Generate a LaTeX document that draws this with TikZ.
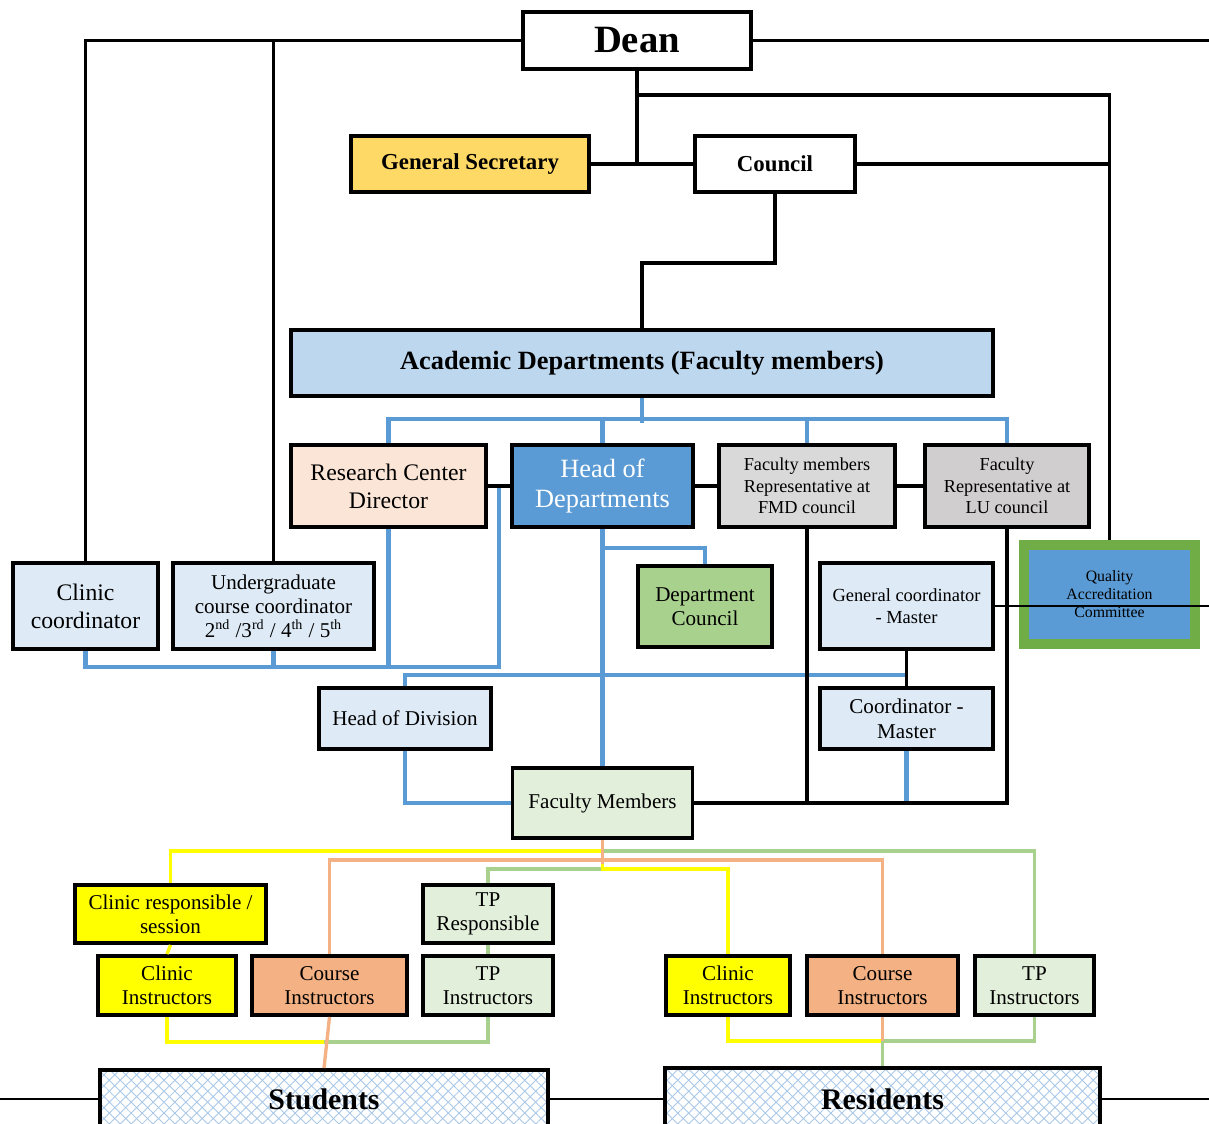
\documentclass[tikz,border=0pt]{standalone}
\usepackage{fontspec}
\setmainfont{Liberation Serif}
\usetikzlibrary{calc,patterns.meta}

\definecolor{gold}{HTML}{FFD966}
\definecolor{acadblue}{HTML}{BDD7EE}
\definecolor{peach}{HTML}{FBE5D6}
\definecolor{hodblue}{HTML}{5B9BD5}
\definecolor{greyA}{HTML}{D9D9D9}
\definecolor{greyB}{HTML}{D0CECE}
\definecolor{qgreen}{HTML}{70AD47}
\definecolor{paleblue}{HTML}{DEEBF7}
\definecolor{deptgreen}{HTML}{A9D18E}
\definecolor{palegreen}{HTML}{E2EFDA}
\definecolor{brightyellow}{HTML}{FFFF00}
\definecolor{apricot}{HTML}{F4B183}
\definecolor{hatchblue}{HTML}{A9C8E8}

\begin{document}
\begin{tikzpicture}[x=0.02cm, y=-0.02cm,
  box/.style={draw, line width=2.2pt, align=center, inner sep=0pt},
  wh/.style 2 args={minimum width=#1*0.02cm, minimum height=#2*0.02cm},
  fs/.style 2 args={font=\fontsize{#1}{#2}\selectfont},
  blk/.style={line width=2pt},
  blu/.style={line width=2.3pt, draw=hodblue},
  ylw/.style={line width=1.9pt, draw=brightyellow},
  org/.style={line width=1.9pt, draw=apricot},
  grn/.style={line width=1.9pt, draw=deptgreen},
  hatch/.style={preaction={fill=white},
    preaction={pattern={Lines[angle=45,distance=4.4pt,line width=0.5pt]}, pattern color=hatchblue},
    preaction={pattern={Lines[angle=-45,distance=4.4pt,line width=0.5pt]}, pattern color=hatchblue}}]
	\useasboundingbox (0,0) rectangle (1209,1124);
	\clip (0,0) rectangle (1209,1124);
	\fill[white] (0,0) rectangle (1209,1124);

	% top level
	\node[box, wh={228}{57}, fs={22}{26}] (dean) at (637,40.5) {\textbf{Dean}};
	\node[box, fill=gold, wh={238}{56}, fs={13}{15}] (gensec) at (470,164) {\textbf{General Secretary}};
	\node[box, wh={160}{56}, fs={13}{15}] (council) at (775,164) {\textbf{Council}};
	\node[box, fill=acadblue, wh={702}{66}, fs={15}{18}] (acad) at (642,363) {\textbf{Academic Departments (Faculty members)}};

	% departments row
	\node[box, fill=peach, wh={195}{82}, fs={13.5}{16}] (rcd) at (388.5,486) {Research Center\\Director};
	\node[box, fill=hodblue, text=white, wh={181}{82}, fs={15}{17.5}] (hod) at (602.5,486) {Head of\\Departments};
	\node[box, fill=greyA, wh={176}{82}, fs={10.4}{12.2}] (fmd) at (807,486) {Faculty members\\Representative at\\FMD council};
	\node[box, fill=greyB, wh={164}{82}, fs={10.4}{12.2}] (lu) at (1007,486) {Faculty\\Representative at\\LU council};
	\node[box, draw=qgreen, line width=5.7pt, fill=hodblue, wh={171}{99}, fs={9}{10.2}] (qac) at (1109.5,594.5) {Quality\\Accreditation\\Committee};

	% coordinators
	\node[box, fill=paleblue, wh={145}{86}, fs={13.5}{16}] (clinco) at (85.5,606) {Clinic\\coordinator};
	\node[box, fill=paleblue, wh={201}{86}, fs={12}{13.6}] (ugco) at (273.5,606) {Undergraduate\\course coordinator\\2\textsuperscript{nd} /3\textsuperscript{rd} / 4\textsuperscript{th} / 5\textsuperscript{th}};
	\node[box, fill=deptgreen, wh={134}{81}, fs={12}{14}] (dcouncil) at (705,606.5) {Department\\Council};
	\node[box, fill=paleblue, wh={173}{86}, fs={10.5}{12.5}] (gcm) at (906.5,606) {General coordinator\\- Master};
	\node[box, fill=paleblue, wh={172}{61}, fs={12}{14}] (hdiv) at (405,718.5) {Head of Division};
	\node[box, fill=paleblue, wh={173}{61}, fs={12}{14}] (cm) at (906.5,718.5) {Coordinator -\\Master};
	\node[box, fill=palegreen, wh={180}{70}, fs={12}{14}] (fm) at (602.5,803) {Faculty Members};

	% instructors
	\node[box, fill=brightyellow, wh={191}{58}, fs={12}{13.6}] (clinresp) at (170.5,914) {Clinic responsible /\\session};
	\node[box, fill=palegreen, wh={130}{58}, fs={12}{13.6}] (tpresp) at (488,914) {TP\\Responsible};
	\node[box, fill=brightyellow, wh={138}{59}, fs={12}{13.6}] (clinL) at (167,985.5) {Clinic\\Instructors};
	\node[box, fill=apricot, wh={155}{59}, fs={12}{13.6}] (courseL) at (329.5,985.5) {Course\\Instructors};
	\node[box, fill=palegreen, wh={130}{59}, fs={12}{13.6}] (tpL) at (488,985.5) {TP\\Instructors};
	\node[box, fill=brightyellow, wh={124}{59}, fs={12}{13.6}] (clinR) at (728,985.5) {Clinic\\Instructors};
	\node[box, fill=apricot, wh={151}{59}, fs={12}{13.6}] (courseR) at (882.5,985.5) {Course\\Instructors};
	\node[box, fill=palegreen, wh={119}{59}, fs={12}{13.6}] (tpR) at (1034.5,985.5) {TP\\Instructors};

	\node[box, hatch, wh={448}{58}, fs={17}{20}] (students) at (324,1099) {\textbf{Students}};
	\node[box, hatch, wh={435}{62}, fs={17}{20}] (residents) at (882.5,1099) {\textbf{Residents}};

	\coordinate (eR) at (1209,40.5);
	\coordinate (gR) at (1209,606);
	\coordinate (sL) at (0,1099);
	\coordinate (sR) at (1209,1099);
	\coordinate (rh) at ($(rcd.east)!.5!(hod.west)$);
	\coordinate (hx) at (906.5,675);
	\coordinate (sj) at (324,1042);
	\coordinate (rj) at (882.5,1041);

	% blue links
	\draw[blu] (acad.south) -- ++(0,25);
	\draw[blu] (rcd.north) -- ++(0,-24) -| (lu.north);
	\draw[blu] (hod.north) -- ++(0,-24);
	\draw[blu] (fmd.north) -- ++(0,-24);
	\draw[blu] (clinco.south) -- ++(0,16) -| (rh);
	\draw[blu] (ugco.south) -- ++(0,16);
	\draw[blu] (rcd.south) -- ++(0,138);
	\draw[blu] (hod.south) -- (fm.north);
	\draw[blu] (hod.south) -- ++(0,19) -| (dcouncil.north);
	\draw[blu] (hdiv.north) |- (hx);
	\draw[blu] (hdiv.south) |- (fm.west);
	\draw[blu] (cm.south) -- (cm.south |- fm.east);

	% black links
	\draw[blk] (dean.west) -| (clinco.north);
	\draw[blk] (dean.west) -| (ugco.north);
	\draw[blk] (dean.east) -- (eR);
	\draw[blk] (dean.south) -- (dean.south |- gensec.east);
	\draw[blk] (dean.south) -- ++(0,24) -| (qac.north);
	\draw[blk] (gensec.east) -- (council.west);
	\draw[blk] (council.east) -- (council.east -| qac.north);
	\draw[blk] (council.south) -- ++(0,69) -| (acad.north);
	\draw[blk] (rcd.east) -- (hod.west);
	\draw[blk] (hod.east) -- (fmd.west);
	\draw[blk] (fmd.east) -- (lu.west);
	\draw[blk] (fmd.south) -- (fmd.south |- fm.east);
	\draw[blk] (fm.east) -| (lu.south);
	\draw[blk] (gcm.south) -- (cm.north);
	\draw[line width=1.7pt] (gcm.east) -- (gR);

	% teaching links
	\draw[grn] (tpresp.north) -- ++(0,-14) -| ++(114.5,-18) -| (tpR.north);
	\draw[ylw] (clinresp.north) -- ++(0,-32) -| ++(432,18) -| (clinR.north);
	\draw[org] (fm.south) -- ++(0,24);
	\draw[org] (courseL.north) -- ++(0,-94) -| (courseR.north);
	\draw[ylw] (clinresp.south) -- (clinL.north);
	\draw[grn] (tpresp.south) -- (tpL.north);
	\draw[ylw] (clinL.south) |- (sj);
	\draw[grn] (tpL.south) |- (sj);
	\draw[org] (courseL.south) -- (students.north);
	\draw[ylw] (clinR.south) |- (rj);
	\draw[grn] (tpR.south) |- (rj);
	\draw[org] (courseR.south) -- (rj);
	\draw[grn] (rj) -- (residents.north);

	\draw[line width=1.2pt] (sL) -- (students.west);
	\draw[line width=1.2pt] (students.east) -- (residents.west);
	\draw[line width=1.2pt] (residents.east) -- (sR);
\end{tikzpicture}
\end{document}
